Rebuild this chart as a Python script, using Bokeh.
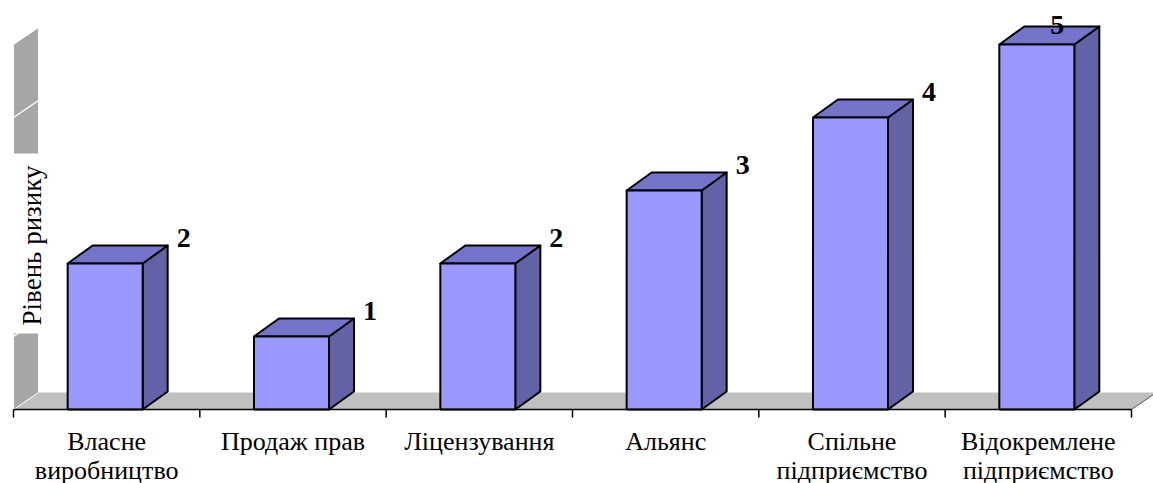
import math
from bokeh.plotting import figure
from bokeh.models import Range1d, ColumnDataSource
from bokeh.core.properties import value
from bokeh.embed import file_html
from bokeh.resources import INLINE

# ---- data ----
categories = ["Власне\nвиробництво", "Продаж прав", "Ліцензування", "Альянс",
              "Спільне\nпідприємство", "Відокремлене\nпідприємство"]
risk_levels = [2, 1, 2, 3, 4, 5]
value_ticks = [0, 1, 2, 3, 4, 5]
y_title = "Рівень ризику"

# ---- layout / styling ----
W, H = 1153, 483
CAT_PX = 186.33          # pixels per category
VAL_PX = 73.0            # pixels per unit of risk
X0_PX, Y0_PX = 13.0, 409.0
DX = 25.0 / CAT_PX       # depth offset in data units
DY = 18.0 / VAL_PX
DYW = 17.0 / VAL_PX
BAR_W = 75.0 / CAT_PX
N = len(categories)
VMAX = value_ticks[-1]

FRONT = "#9999FF"
TOP = "#7474CA"
SIDE = "#6262A6"
FLOOR = "#C0C0C0"
WALL = "#A6A6A6"
SERIF = value("Liberation Serif")

p = figure(width=W, height=H, output_backend="svg", toolbar_location=None,
           x_axis_type=None, y_axis_type=None, min_border=0,
           x_range=Range1d(-X0_PX / CAT_PX, (W - X0_PX) / CAT_PX),
           y_range=Range1d(-(H - Y0_PX) / VAL_PX, Y0_PX / VAL_PX))
p.grid.visible = False
p.outline_line_color = None
p.background_fill_color = "white"
p.border_fill_color = "white"

# floor
p.patch([0, N, N + DX, DX], [0, 0, DYW, DYW], fill_color=FLOOR, line_color=None)
p.line([N, N + DX], [0, DYW], line_color="#555555", line_width=1)
# side wall
p.patch([0, 0, DX, DX], [0, VMAX, VMAX + DYW, DYW], fill_color=WALL,
        line_color="white", line_width=1)
# wall gridlines
gl = [v for v in value_ticks[1:-1]]
p.segment(x0=[0] * len(gl), y0=gl, x1=[DX] * len(gl), y1=[v + DYW for v in gl],
          line_color="white", line_width=1.5)

# y-axis title with white box
p.quad(left=-X0_PX / CAT_PX, right=27.0 / CAT_PX,
       bottom=(Y0_PX - 333) / VAL_PX, top=(Y0_PX - 153) / VAL_PX,
       fill_color="white", line_color=None)
p.text(x=[18.0 / CAT_PX], y=[(Y0_PX - 245) / VAL_PX], text=[y_title],
       angle=math.pi / 2, text_align="center", text_baseline="middle",
       text_font=SERIF, text_font_size="27px", text_color="black")

# bars
for i, v in enumerate(risk_levels):
    c = i + 0.5 - 1.5 / CAT_PX
    l, r = c - BAR_W / 2, c + BAR_W / 2
    p.patch([r, r + DX, r + DX, r], [0, DY, v + DY, v], fill_color=SIDE,
            line_color="black", line_width=2, line_join="round")
    p.patch([l, r, r + DX, l + DX], [v, v, v + DY, v + DY], fill_color=TOP,
            line_color="black", line_width=2, line_join="round")
    p.quad(left=[l], right=[r], bottom=[0], top=[v], fill_color=FRONT,
           line_color="black", line_width=2)

# category axis
p.segment(x0=[0], y0=[0], x1=[N], y1=[0], line_color="black", line_width=1.5)
ticks = list(range(N + 1))
p.segment(x0=ticks, y0=[0] * len(ticks), x1=ticks,
          y1=[-8.0 / VAL_PX] * len(ticks), line_color="black", line_width=1.5)

p.text(x=[i + 0.5 for i in range(N)], y=[-(426 - Y0_PX) / VAL_PX] * N,
       text=categories, text_align="center", text_baseline="top",
       text_font=SERIF, text_font_size="26px", text_color="black",
       text_line_height=1.0)

# value labels
lx, ly, lxo, lyo = [], [], [], []
for i, v in enumerate(risk_levels):
    c = i + 0.5 - 1.5 / CAT_PX
    r = c + BAR_W / 2
    top_px = Y0_PX - (v + DY) * VAL_PX
    if top_px < 40:      # no room at right: centre over the top face
        lx.append(c + DX / 2); ly.append(v + DY); lxo.append(8); lyo.append(-2)
    else:
        lx.append(r + DX); ly.append(v + DY); lxo.append(16); lyo.append(-8)
src = ColumnDataSource(dict(x=lx, y=ly, t=[str(v) for v in risk_levels],
                            xo=lxo, yo=lyo))
p.text(x="x", y="y", text="t", x_offset="xo", y_offset="yo", source=src,
       text_align="center", text_baseline="middle", text_font=SERIF,
       text_font_style="bold", text_font_size="28px", text_color="black")

open("out.html", "w").write(file_html(p, INLINE))
